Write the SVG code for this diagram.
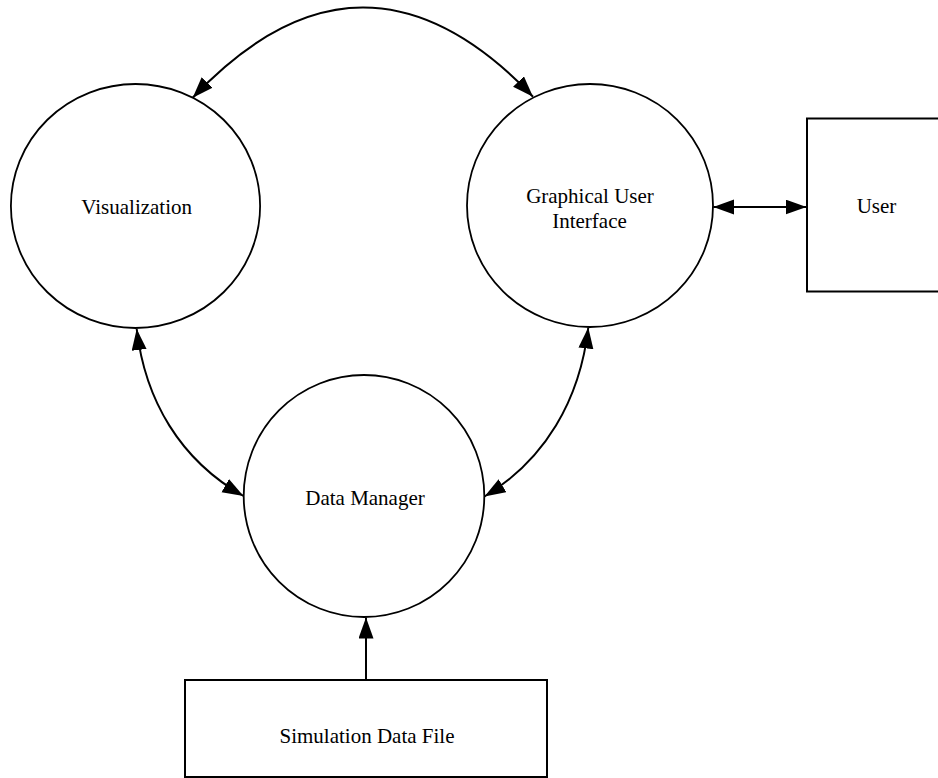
<svg xmlns="http://www.w3.org/2000/svg" width="938" height="778" viewBox="0 0 938 778">
<style>
.node { fill: #ffffff; stroke: #000000; stroke-width: 1.8; }
.box { fill: #ffffff; stroke: #000000; stroke-width: 2; }
.lbl { font-family: "Liberation Serif", "Times New Roman", serif; font-size: 21px; fill: #000000; text-anchor: middle; }
.conn { fill: none; stroke: #000000; stroke-width: 2; marker-start: url(#ah); marker-end: url(#ah); }
.conn1 { fill: none; stroke: #000000; stroke-width: 2; marker-end: url(#ah); }
</style>
<defs>
<marker id="ah" markerUnits="userSpaceOnUse" markerWidth="22" markerHeight="16" refX="21" refY="7.5" orient="auto-start-reverse">
<path d="M0,0 L21,7.5 L0,15 z" fill="#000000"/>
</marker>
</defs>
<rect width="938" height="778" fill="#ffffff"/>
<g id="visualization">
<ellipse class="node" cx="135.5" cy="206" rx="124.6" ry="122"/>
<text class="lbl" x="136.7" y="214">Visualization</text>
</g>
<g id="gui">
<ellipse class="node" cx="590" cy="205.5" rx="123" ry="121.5"/>
<text class="lbl" x="590" y="203">Graphical User</text>
<text class="lbl" x="589.5" y="228">Interface</text>
</g>
<g id="data-manager">
<ellipse class="node" cx="364" cy="496" rx="120.3" ry="121"/>
<text class="lbl" x="365" y="505">Data Manager</text>
</g>
<g id="user">
<rect class="box" x="807" y="118.5" width="140" height="173"/>
<text class="lbl" x="876.5" y="213">User</text>
</g>
<g id="simulation-data-file">
<rect class="box" x="185" y="680" width="362" height="97"/>
<text class="lbl" x="367" y="743">Simulation Data File</text>
</g>
<g id="connectors">
<path class="conn" d="M192.7,97.7 Q362.5,-82 533,96.7"/>
<path class="conn" d="M136.7,329 C145,400 180,460 243.5,496"/>
<path class="conn" d="M588.3,327.5 C580,400 545,460 484.5,496.5"/>
<path class="conn" d="M713.3,207 L806.5,207"/>
<path class="conn1" d="M366,680 L366,617.5"/>
</g>
</svg>
